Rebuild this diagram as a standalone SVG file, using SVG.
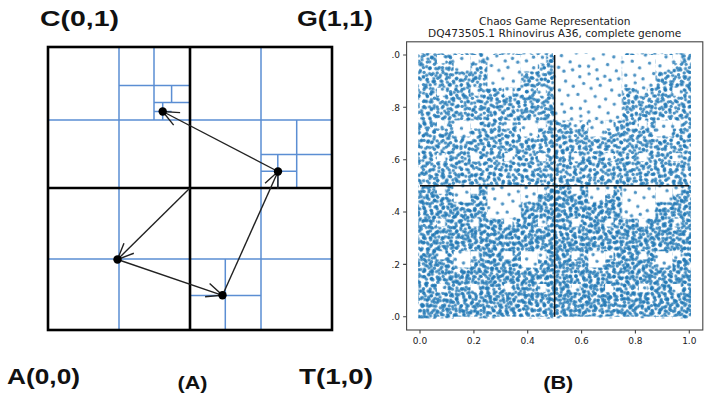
<svg xmlns="http://www.w3.org/2000/svg" width="708" height="399" viewBox="0 0 708 399">
<style>
.bk{stroke:#000;stroke-width:2.6;fill:none}
.bl{stroke:#5b8ed3;stroke-width:1.5;fill:none}
.ar{stroke:#222;stroke-width:1.4;fill:none;marker-end:url(#ah)}
.lbl{font-family:"Liberation Sans",Arial,sans-serif;font-weight:bold;font-size:22px;fill:#111}
.cap{font-family:"Liberation Sans",Arial,sans-serif;font-weight:bold;font-size:19px;fill:#111}
.d{fill:#1f77b4;fill-opacity:.8}
.tk{font-family:"DejaVu Sans",sans-serif;font-size:9px;fill:#222}
.tt{font-family:"DejaVu Sans",sans-serif;font-size:10.6px;fill:#222;text-anchor:middle}
.sp{stroke:#444;stroke-width:1.1;fill:none}
</style>
<defs>
<marker id="ah" markerUnits="userSpaceOnUse" markerWidth="40" markerHeight="40" refX="0" refY="0" viewBox="-20 -20 40 40" orient="auto" overflow="visible">
<path d="M-16,-7 L0,0 L-16,7" fill="none" stroke="#222" stroke-width="1.4"/>
</marker>
<pattern id="p1" patternUnits="userSpaceOnUse" width="19" height="17" x="3" y="2">
<circle class="d" cx="3.1" cy="2.4" r="1.7"/><circle class="d" cx="10.6" cy="4.8" r="1.7"/><circle class="d" cx="16.2" cy="2.9" r="1.7"/><circle class="d" cx="6.3" cy="9.1" r="1.7"/><circle class="d" cx="13.4" cy="11.2" r="1.7"/><circle class="d" cx="2.5" cy="14.6" r="1.7"/><circle class="d" cx="9.2" cy="14.9" r="1.7"/><circle class="d" cx="16.8" cy="8.3" r="1.7"/>
</pattern>
<pattern id="p2" patternUnits="userSpaceOnUse" width="23" height="21" patternTransform="rotate(27)">
<circle class="d" cx="2.8" cy="3.5" r="1.7"/><circle class="d" cx="9.7" cy="2.1" r="1.7"/><circle class="d" cx="17.3" cy="5.2" r="1.7"/><circle class="d" cx="21" cy="2" r="1.7"/><circle class="d" cx="5.4" cy="10.3" r="1.7"/><circle class="d" cx="12.1" cy="8.6" r="1.7"/><circle class="d" cx="19.4" cy="12.7" r="1.7"/><circle class="d" cx="2.2" cy="17.8" r="1.7"/><circle class="d" cx="8.9" cy="16.4" r="1.7"/><circle class="d" cx="15.6" cy="18.9" r="1.7"/><circle class="d" cx="12.7" cy="13.9" r="1.7"/>
</pattern>
<pattern id="p3" patternUnits="userSpaceOnUse" width="29" height="27" patternTransform="rotate(-41)">
<circle class="d" cx="2.5" cy="2.4" r="1.7"/><circle class="d" cx="8.8" cy="5.9" r="1.7"/><circle class="d" cx="15.2" cy="2.2" r="1.7"/><circle class="d" cx="22.7" cy="4.6" r="1.7"/><circle class="d" cx="27.1" cy="9.3" r="1.7"/><circle class="d" cx="4.3" cy="11.7" r="1.7"/><circle class="d" cx="11.6" cy="12.8" r="1.7"/><circle class="d" cx="18.4" cy="9.6" r="1.7"/><circle class="d" cx="24.5" cy="15.2" r="1.7"/><circle class="d" cx="2.1" cy="20.5" r="1.7"/><circle class="d" cx="8.2" cy="18.7" r="1.7"/><circle class="d" cx="14.9" cy="19.9" r="1.7"/><circle class="d" cx="20.3" cy="22.8" r="1.7"/><circle class="d" cx="26.6" cy="24.1" r="1.7"/><circle class="d" cx="5.7" cy="25.1" r="1.7"/><circle class="d" cx="12.3" cy="24.9" r="1.7"/><circle class="d" cx="17.6" cy="15.8" r="1.7"/><circle class="d" cx="27.3" cy="2.3" r="1.7"/>
</pattern>
<pattern id="p4" patternUnits="userSpaceOnUse" width="17" height="13" patternTransform="rotate(63)">
<circle class="d" cx="2.3" cy="2.5" r="1.7"/><circle class="d" cx="8.7" cy="4.1" r="1.7"/><circle class="d" cx="14.6" cy="2.2" r="1.7"/><circle class="d" cx="5.1" cy="9.6" r="1.7"/><circle class="d" cx="11.8" cy="10.8" r="1.7"/><circle class="d" cx="15.2" cy="7.3" r="1.7"/>
</pattern>
<pattern id="ps" patternUnits="userSpaceOnUse" width="47" height="43" patternTransform="rotate(11)">
<circle class="d" cx="3.1" cy="5.2" r="1.7"/><circle class="d" cx="11.4" cy="2.3" r="1.7"/><circle class="d" cx="19.8" cy="7.7" r="1.7"/><circle class="d" cx="28.3" cy="3.1" r="1.7"/><circle class="d" cx="37.6" cy="6.4" r="1.7"/><circle class="d" cx="44.2" cy="2.5" r="1.7"/><circle class="d" cx="6.7" cy="14.8" r="1.7"/><circle class="d" cx="15.2" cy="18.3" r="1.7"/><circle class="d" cx="24.9" cy="13.6" r="1.7"/><circle class="d" cx="33.1" cy="16.9" r="1.7"/><circle class="d" cx="41.5" cy="12.2" r="1.7"/><circle class="d" cx="2.4" cy="24.7" r="1.7"/><circle class="d" cx="11.9" cy="28.1" r="1.7"/><circle class="d" cx="21.3" cy="25.4" r="1.7"/><circle class="d" cx="29.8" cy="30.6" r="1.7"/><circle class="d" cx="38.7" cy="24.1" r="1.7"/><circle class="d" cx="44.8" cy="33.5" r="1.7"/><circle class="d" cx="7.5" cy="37.9" r="1.7"/><circle class="d" cx="17.6" cy="40.2" r="1.7"/><circle class="d" cx="26.4" cy="38.8" r="1.7"/><circle class="d" cx="35.2" cy="40.7" r="1.7"/>
</pattern>
<pattern id="k1" patternUnits="userSpaceOnUse" x="420" y="55" width="269.3" height="261.7"><rect x="134.65" y="0" width="67.33" height="65.43" fill="#000"/></pattern>
<pattern id="k2" patternUnits="userSpaceOnUse" x="420" y="55" width="134.65" height="130.85"><rect x="67.33" y="0" width="33.66" height="32.71" fill="#000"/></pattern>
<pattern id="k3" patternUnits="userSpaceOnUse" x="420" y="55" width="67.325" height="65.425"><rect x="33.66" y="0" width="16.83" height="16.36" fill="#000"/></pattern>
<pattern id="k4" patternUnits="userSpaceOnUse" x="420" y="55" width="33.66" height="32.71"><rect x="16.83" y="0" width="8.42" height="8.18" fill="#000"/></pattern>
<mask id="m" maskUnits="userSpaceOnUse" x="400" y="40" width="300" height="290">
<rect x="400" y="40" width="300" height="290" fill="#fff"/>
<rect x="418" y="53" width="274" height="266" fill="url(#k1)"/>
<rect x="418" y="53" width="274" height="266" fill="url(#k2)"/>
<rect x="418" y="53" width="274" height="266" fill="url(#k3)"/>
<rect x="418" y="53" width="274" height="266" fill="url(#k4)"/>
<rect x="553" y="40" width="70" height="16" fill="#000"/>
</mask>
</defs>
<rect width="708" height="399" fill="#fff"/>

<!-- Panel A -->
<g id="grid-fine">
<path class="bl" d="M119,47V330M261,47V330M48,120H332M48,259H332"/>
<path class="bl" d="M154,47V120M119,85.5H190M171.6,85.5V102.5M154,102.5H190M162.7,102.5V120M154,111.5H171.6"/>
<path class="bl" d="M261,154.5H332M296.7,120V188M277.8,154.5V188M261,171.3H296.7"/>
<path class="bl" d="M225.3,259V330M190,295.5H261"/>
</g>
<g id="grid-main">
<rect class="bk" x="48" y="47" width="284" height="283"/>
<path class="bk" d="M190,47V330M48,188H332"/>
</g>
<g id="connectors">
<line class="ar" x1="190" y1="188" x2="117.5" y2="259.5"/>
<line class="ar" x1="117.5" y1="259.5" x2="222.5" y2="295.3"/>
<line class="ar" x1="222.5" y1="295.3" x2="278" y2="171.5"/>
<line class="ar" x1="278" y1="171.5" x2="162.7" y2="111.5"/>
</g>
<g id="node-A"><circle cx="117.5" cy="259.5" r="4.2" fill="#000"/></g>
<g id="node-T"><circle cx="222.5" cy="295.3" r="4.2" fill="#000"/></g>
<g id="node-G"><circle cx="278" cy="171.5" r="4.2" fill="#000"/></g>
<g id="node-C"><circle cx="162.7" cy="111.5" r="4.2" fill="#000"/></g>
<g id="corner-labels">
<text class="lbl" x="40" y="26" textLength="79" lengthAdjust="spacingAndGlyphs">C(0,1)</text>
<text class="lbl" x="297" y="26" textLength="76" lengthAdjust="spacingAndGlyphs">G(1,1)</text>
<text class="lbl" x="7" y="383.5" textLength="73" lengthAdjust="spacingAndGlyphs">A(0,0)</text>
<text class="lbl" x="299" y="383.5" textLength="74" lengthAdjust="spacingAndGlyphs">T(1,0)</text>
</g>
<text class="cap" x="177.5" y="389" textLength="30" lengthAdjust="spacingAndGlyphs">(A)</text>

<!-- Panel B -->
<g id="scatter">
<rect x="418.3" y="53.3" width="272.7" height="265.1" fill="url(#ps)"/>
<g mask="url(#m)">
<rect x="418.3" y="53.3" width="272.7" height="265.1" fill="url(#p1)"/>
<rect x="418.3" y="53.3" width="272.7" height="265.1" fill="url(#p2)"/>
<rect x="418.3" y="53.3" width="272.7" height="265.1" fill="url(#p3)"/>
<rect x="418.3" y="185.85" width="272.7" height="132.55" fill="url(#p4)"/>
</g>
</g>
<g id="crosshair">
<path d="M554.65,55V316.7M420,185.85H689.3" stroke="#111" stroke-width="1.5" fill="none"/>
</g>
<g id="axes">
<rect class="sp" x="406.6" y="41.8" width="296.2" height="288.2"/>
<path class="sp" d="M420,330v3.5M473.9,330v3.5M527.7,330v3.5M581.6,330v3.5M635.4,330v3.5M689.3,330v3.5M406.6,316.7h-3.5M406.6,264.4h-3.5M406.6,212h-3.5M406.6,159.7h-3.5M406.6,107.3h-3.5M406.6,55h-3.5"/>
<g class="tk" text-anchor="middle">
<text x="420" y="343.5">0.0</text><text x="473.9" y="343.5">0.2</text><text x="527.7" y="343.5">0.4</text><text x="581.6" y="343.5">0.6</text><text x="635.4" y="343.5">0.8</text><text x="689.3" y="343.5">1.0</text>
</g>
<g class="tk" text-anchor="end">
<text x="400" y="58.3">.0</text><text x="400" y="110.6">.8</text><text x="400" y="163">.6</text><text x="400" y="215.3">.4</text><text x="400" y="267.7">.2</text><text x="400" y="320">.0</text>
</g>
</g>
<g id="title">
<text class="tt" x="554.7" y="25">Chaos Game Representation</text>
<text class="tt" x="554.7" y="37">DQ473505.1 Rhinovirus A36, complete genome</text>
</g>
<text class="cap" x="543.3" y="389" textLength="30" lengthAdjust="spacingAndGlyphs">(B)</text>
</svg>
